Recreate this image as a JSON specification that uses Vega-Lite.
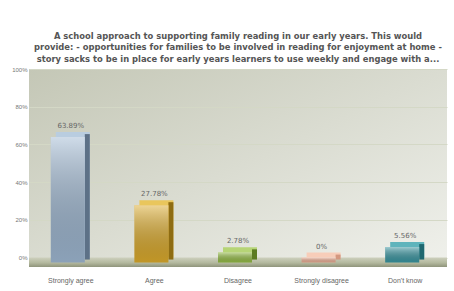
{
  "$schema": "https://vega.github.io/schema/vega-lite/v6.json",
  "width": 418,
  "height": 198,
  "autosize": {"type": "none"},
  "padding": {"left": 29, "top": 69, "right": 7, "bottom": 24},
  "background": "#ffffff",
  "title": {
    "text": [
      "A school approach to supporting family reading in our early years. This would",
      "provide: - opportunities for families to be involved in reading for enjoyment at home -",
      "story sacks to be in place for early years learners to use weekly and engage with a..."
    ],
    "font": "DejaVu Sans",
    "fontSize": 8.4,
    "fontWeight": "bold",
    "color": "#555555",
    "lineHeight": 11.3,
    "offset": 3,
    "anchor": "middle"
  },
  "config": {
    "view": {
      "stroke": null,
      "fill": {
        "gradient": "linear",
        "x1": 0, "y1": 0, "x2": 1, "y2": 1,
        "stops": [
          {"offset": 0, "color": "#c4c7b6"},
          {"offset": 1, "color": "#f0f1ec"}
        ]
      }
    },
    "axis": {"font": "DejaVu Sans", "labelColor": "#777777", "domain": false, "ticks": false},
    "axisY": {"values": [0, 20, 40, 60, 80, 100], "labelOverlap": false, "labelFontSize": 6, "labelPadding": 2, "gridColor": "#d4d8c6", "gridWidth": 1}
  },
  "datasets": {
    "answers": [
      {"answer": "Strongly agree", "pct": 63.89},
      {"answer": "Agree", "pct": 27.78},
      {"answer": "Disagree", "pct": 2.78},
      {"answer": "Strongly disagree", "pct": 0},
      {"answer": "Don't know", "pct": 5.56}
    ],
    "floor": [{"lo": -5, "hi": 0}]
  },
  "resolve": {"scale": {"color": "independent"}},
  "layer": [
    {
      "data": {"name": "floor"},
      "mark": {
        "type": "rect",
        "color": {
          "gradient": "linear", "x1": 0, "y1": 0, "x2": 0, "y2": 1,
          "stops": [
            {"offset": 0, "color": "#cdd0bd"},
            {"offset": 0.55, "color": "#b3b89e"},
            {"offset": 1, "color": "#8f947b"}
          ]
        }
      },
      "encoding": {
        "y": {"field": "lo", "type": "quantitative", "scale": {"domain": [-5, 100], "nice": false, "zero": false},
              "axis": {"title": null, "labelExpr": "datum.value + '%'"}},
        "y2": {"field": "hi"}
      }
    },
    {
      "data": {"name": "answers"},
      "mark": {"type": "bar", "width": 34, "xOffset": 2, "yOffset": -5, "y2Offset": 0},
      "encoding": {
        "x": {"field": "answer", "type": "nominal", "sort": null},
        "y": {"field": "pct", "type": "quantitative"},
        "y2": {"datum": 0},
        "color": {
          "field": "answer", "type": "nominal", "sort": null, "legend": null,
          "scale": {"domain": ["Strongly agree", "Agree", "Disagree", "Strongly disagree", "Don't know"],
                    "range": ["#b9cde0", "#e9c65c", "#b6d476", "#f7cdb9", "#5fb4bc"]}
        }
      }
    },
    {
      "data": {"name": "answers"},
      "mark": {"type": "bar", "width": 5, "xOffset": 16.5, "yOffset": -3, "y2Offset": 2},
      "encoding": {
        "x": {"field": "answer", "type": "nominal", "sort": null},
        "y": {"field": "pct", "type": "quantitative"},
        "y2": {"datum": 0},
        "color": {
          "field": "answer", "type": "nominal", "sort": null, "legend": null,
          "scale": {"domain": ["Strongly agree", "Agree", "Disagree", "Strongly disagree", "Don't know"],
                    "range": ["#5d7187", "#8e6c12", "#5c7b22", "#d49880", "#1f6870"]}
        }
      }
    },
    {
      "data": {"name": "answers"},
      "mark": {"type": "bar", "width": 34, "xOffset": -3, "y2Offset": 5},
      "encoding": {
        "x": {"field": "answer", "type": "nominal", "sort": null,
              "scale": {"paddingInner": 0, "paddingOuter": 0},
              "axis": {"title": null, "labelAngle": 0, "labelAlign": "center", "labelBaseline": "top",
                       "labelFontSize": 7, "labelColor": "#666666", "labelPadding": 9}},
        "y": {"field": "pct", "type": "quantitative"},
        "y2": {"datum": 0},
        "color": {
          "field": "answer", "type": "nominal", "sort": null, "legend": null,
          "scale": {"domain": ["Strongly agree", "Agree", "Disagree", "Strongly disagree", "Don't know"],
                    "range": ["#9fb8d2", "#dcab2c", "#95bd45", "#efb096", "#3a97a2"]}
        }
      }
    },
    {
      "data": {"name": "answers"},
      "mark": {
        "type": "bar", "width": 34, "xOffset": -3, "y2Offset": 5,
        "color": {
          "gradient": "linear", "x1": 0, "y1": 0, "x2": 0, "y2": 1,
          "stops": [
            {"offset": 0, "color": "rgba(255,255,255,0.5)"},
            {"offset": 1, "color": "rgba(0,0,0,0.12)"}
          ]
        }
      },
      "encoding": {
        "x": {"field": "answer", "type": "nominal", "sort": null},
        "y": {"field": "pct", "type": "quantitative"},
        "y2": {"datum": 0}
      }
    },
    {
      "data": {"name": "answers"},
      "mark": {"type": "text", "dy": -11, "font": "DejaVu Sans", "fontSize": 7, "color": "#666666",
               "text": {"expr": "datum.pct + '%'"}},
      "encoding": {
        "x": {"field": "answer", "type": "nominal", "sort": null},
        "y": {"field": "pct", "type": "quantitative"}
      }
    }
  ]
}
